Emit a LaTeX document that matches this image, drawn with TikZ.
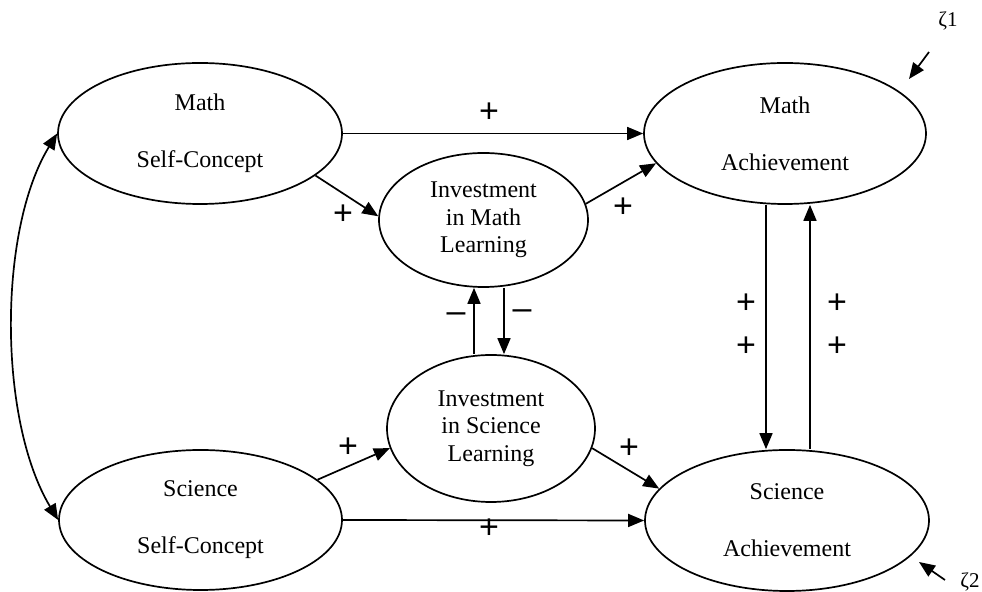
\documentclass[tikz,border=0pt]{standalone}
\usepackage{fontspec}
\setmainfont{Liberation Serif}
\newfontfamily\signfont{Liberation Sans}
\usetikzlibrary{arrows.meta,shapes.geometric}
\begin{document}
\begin{tikzpicture}[x=0.5pt,y=-0.5pt,
  lat/.style={ellipse, draw, line width=0.85pt, inner sep=0pt, align=center,
    font=\fontsize{12}{13.8}\selectfont},
  pathar/.style={line width=0.85pt, -{Triangle[length=8pt,width=6.5pt]}},
  sign/.style={inner sep=0pt, font=\signfont\fontsize{17}{17}\selectfont},
  zeta/.style={inner sep=0pt, font=\fontsize{10.5}{12}\selectfont}]
\useasboundingbox (0,0) rectangle (982,592);

% latent variables
\node[lat, minimum width=142pt, minimum height=70.5pt] (msc) at (200,133.5) {Math\\[14.7pt]Self-Concept};
\node[lat, minimum width=141.5pt, minimum height=70pt] (ssc) at (200.5,520) {Science\\[14.7pt]Self-Concept};
\node[lat, minimum width=104.5pt, minimum height=67pt] (ima) at (483.5,220) {Investment\\in Math\\Learning};
\node[lat, minimum width=104pt, minimum height=73.5pt] (isa) at (491,428.5) {Investment\\in Science\\Learning};
\node[lat, minimum width=141pt, minimum height=70.5pt] (mac) at (785,133.5) {Math\\[14.7pt]Achievement};
\node[lat, minimum width=142pt, minimum height=70.5pt] (sac) at (787,520.5) {Science\\[14.7pt]Achievement};

% helper x positions
\coordinate (xa) at (766,0);
\coordinate (xb) at (810,0);
\coordinate (xc) at (474,0);
\coordinate (xd) at (504,0);
\coordinate (z1s) at (929,52);
\coordinate (z1e) at (909,79);
\coordinate (z2s) at (945,580);
\coordinate (z2e) at (919,562);

% paths
\draw[pathar] (msc.east) -- (mac.west);
\draw[pathar] (msc.-20) -- (ima.178);
\draw[pathar] (ima.9) -- (mac.193);
\draw[pathar] (ssc.19) -- (isa.191);
\draw[pathar] (isa.-11) -- (sac.166);
\draw[pathar] (ssc.east) -- (sac.west);
\draw[pathar] (mac.south -| xa) -- (sac.north -| xa);
\draw[pathar] (sac.north -| xb) -- (mac.south -| xb);
\draw[pathar] (isa.north -| xc) -- (ima.south -| xc);
\draw[pathar] (ima.south -| xd) -- (isa.north -| xd);
\draw[line width=0.85pt, {Triangle[length=8pt,width=6.5pt]}-{Triangle[length=8pt,width=6.5pt]}]
  (msc.west) .. controls (-2,230) and (-2,420) .. (ssc.west);
\draw[pathar] (z1s) -- (z1e);
\draw[pathar] (z2s) -- (z2e);

% disturbance labels
\node[zeta] (zeta1) at (948,21) {ζ1};
\node[zeta] (zeta2) at (970,582) {ζ2};

% signs
\node[sign] (s1) at (489,113) {+};
\node[sign] (s2) at (343,215) {+};
\node[sign] (s3) at (623,208) {+};
\node[sign] (s4) at (456,318) {–};
\node[sign] (s5) at (522,315) {–};
\node[sign] (s6) at (746,304) {+};
\node[sign] (s7) at (746,347) {+};
\node[sign] (s8) at (837,304) {+};
\node[sign] (s9) at (837,347) {+};
\node[sign] (s10) at (348,448) {+};
\node[sign] (s11) at (629,449) {+};
\node[sign] (s12) at (489,529) {+};
\end{tikzpicture}
\end{document}
